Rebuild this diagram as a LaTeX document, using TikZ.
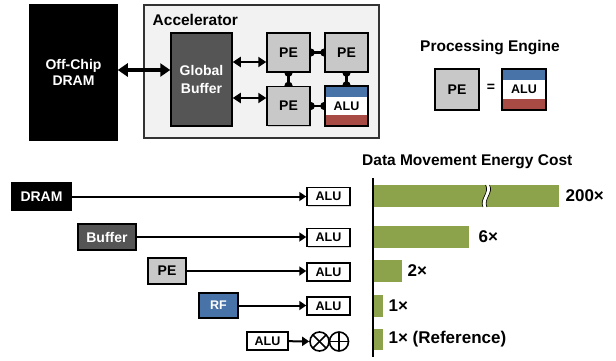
\documentclass[tikz,border=0pt]{standalone}
\usepackage{fontspec}
\setmainfont{Liberation Sans}
\usetikzlibrary{arrows.meta,positioning,shadows,backgrounds,calc}
\definecolor{BoxDark}{HTML}{555555}
\definecolor{PEGray}{HTML}{C8C8C8}
\definecolor{AluBlue}{HTML}{4773A8}
\definecolor{AluRed}{HTML}{A84B45}
\definecolor{BarGreen}{HTML}{8CA24B}
\definecolor{AccelBg}{HTML}{F2F2F2}
\tikzset{
    box/.style = {draw=black, line width=1.5pt, inner sep=0pt, align=center,
        font=\bfseries\fontsize{14}{16}\selectfont,
        drop shadow={opacity=0.3, shadow xshift=1.2pt, shadow yshift=-1.2pt}},
    darkbox/.style = {box, fill=black, text=white},
    greybox/.style = {box, fill=BoxDark, text=white},
    pe/.style = {box, fill=PEGray, minimum width=43pt, minimum height=39pt},
    alu/.style = {box, fill=white, font=\bfseries\fontsize{12.5}{14}\selectfont,
        minimum width=43pt, minimum height=18pt},
    stripedalu/.style = {alu, minimum height=40pt,
        path picture={
            \fill[AluBlue] (path picture bounding box.north west) rectangle ([yshift=-10.5pt]path picture bounding box.north east);
            \fill[AluRed] (path picture bounding box.south west) rectangle ([yshift=11.5pt]path picture bounding box.south east);}},
    opcircle/.style = {circle, draw=black, line width=1.6pt, minimum size=19pt, inner sep=0pt},
    header/.style = {font=\bfseries\fontsize{15.5}{18}\selectfont},
    barlab/.style = {font=\bfseries\fontsize{17}{20}\selectfont, inner sep=0pt},
    bar/.style = {fill=BarGreen, minimum height=22pt, inner sep=0pt, anchor=west},
    bigarrow/.style = {{Triangle[length=10pt,width=13pt]}-{Triangle[length=10pt,width=13pt]}, line width=3.5pt},
    smallarrow/.style = {{Triangle[length=8pt,width=10pt]}-{Triangle[length=8pt,width=10pt]}, line width=2.2pt},
    feed/.style = {-{Triangle[length=7pt,width=9pt]}, line width=2pt},
    link/.style = {{Circle[length=8pt]}-{Circle[length=8pt]}, line width=2.5pt, shorten <=-4pt, shorten >=-4pt}
}

\begin{document}
\begin{tikzpicture}[x=1pt, y=-1pt]
    \useasboundingbox (0,0) rectangle (616,360);
    % Off-chip memory and accelerator
    \node[darkbox, minimum width=87pt, minimum height=135pt] (offchip) at (73.5,72.5) {Off-Chip\\DRAM};
    \node[greybox, minimum width=61pt, minimum height=93pt, font=\bfseries\fontsize{14}{18}\selectfont] (gbuf) at (201.5,79.5) {Global\\Buffer};
    \node[pe] (pe1) at (288.5,52.5) {PE};
    \node[pe] (pe2) at (346.5,52.5) {PE};
    \node[pe] (pe3) at (288.5,106) {PE};
    \node[stripedalu] (alu) at (346.5,106) {ALU};
    \node[header, anchor=base west, inner sep=0pt] (accellabel) at (152.5,25.5) {Accelerator};
    \draw[bigarrow] (offchip.east |- 0,70) -- (gbuf.west |- 0,70);
    \draw[smallarrow] (gbuf.east |- 0,62) -- (pe1.west |- 0,62);
    \draw[smallarrow] (gbuf.east |- 0,98) -- (pe3.west |- 0,98);
    \begin{scope}[on background layer]
        \node[draw=black!80, fill=AccelBg, line width=1.3pt, minimum width=235pt, minimum height=133pt,
            drop shadow={opacity=0.25, shadow xshift=1.2pt, shadow yshift=-1.2pt}] (accel) at (261.5,71.5) {};
        \draw[link] (pe1) -- (pe2);
        \draw[link] (pe1) -- (pe3);
        \draw[link] (pe2) -- (alu);
        \draw[link] (pe3) -- (alu);
    \end{scope}
    % Legend
    \node[header] (legend) at (490,48) {Processing Engine};
    \node[pe, minimum width=44pt, minimum height=41pt] (pelegend) at (457,89.5) {PE};
    \node[font=\bfseries\fontsize{14}{16}\selectfont] (equals) at (491,88) {=};
    \node[stripedalu, minimum width=44pt, minimum height=41pt] (alulegend) at (524,89.5) {ALU};
    % Data movement rows
    \node[darkbox, minimum width=59pt, minimum height=27pt] (dramsrc) at (41.5,196.5) {DRAM};
    \node[greybox, minimum width=58pt, minimum height=26pt] (bufsrc) at (107,237) {Buffer};
    \node[box, fill=PEGray, minimum width=38pt, minimum height=26pt] (pesrc) at (167,271) {PE};
    \node[box, fill=AluBlue, text=white, font=\bfseries\fontsize{12.5}{14}\selectfont, minimum width=39pt, minimum height=25pt] (rfsrc) at (218.5,305.5) {RF};
    \node[alu, minimum width=41pt] (alusrc) at (267.5,341) {ALU};
    \node[alu] (alua) at (328.5,196.5) {ALU};
    \node[alu] (alub) at (328.5,237.5) {ALU};
    \node[alu] (aluc) at (328.5,272) {ALU};
    \node[alu] (alud) at (328.5,306) {ALU};
    \node[opcircle, path picture={
        \draw[line width=1.6pt] (path picture bounding box.north west) -- (path picture bounding box.south east);
        \draw[line width=1.6pt] (path picture bounding box.south west) -- (path picture bounding box.north east);}] (mult) at (319.5,341.5) {};
    \node[opcircle, path picture={
        \draw[line width=1.6pt] (path picture bounding box.north) -- (path picture bounding box.south);
        \draw[line width=1.6pt] (path picture bounding box.west) -- (path picture bounding box.east);}] (add) at (339,341.5) {};
    \draw[feed] (dramsrc) -- (alua);
    \draw[feed] (bufsrc.east) -- (alub.west |- bufsrc.east);
    \draw[feed] (pesrc.east) -- (aluc.west |- pesrc.east);
    \draw[feed] (rfsrc.east) -- (alud.west |- rfsrc.east);
    \draw[feed] (alusrc) -- (mult);
    % Energy cost chart
    \node[header, anchor=west, inner sep=0pt] (charttitle) at (362,162) {Data Movement Energy Cost};
    \coordinate (axtop) at (373,178);
    \coordinate (axbot) at (373,357);
    \node[bar, minimum width=185pt] (bara) at (374,196) {};
    \node[bar, minimum width=95pt] (barb) at (374,237) {};
    \node[bar, minimum width=28pt] (barc) at (374,271) {};
    \node[bar, minimum width=9pt] (bard) at (374,306) {};
    \node[bar, minimum width=9pt, minimum height=21pt] (bare) at (374,339.5) {};
    \draw[line width=2pt] (axtop) -- (axbot);
    % break in the longest bar
    \draw[white, line width=3.2pt] (487.5,183) .. controls (492,193) and (481,199) .. (485,209);
    \draw[black, line width=0.6pt] (485.5,185) .. controls (490,193) and (479,199) .. (483,207);
    \draw[black, line width=0.6pt] (489.5,185) .. controls (494,193) and (483,199) .. (487,207);
    \node[barlab, right=6pt of bara] (laba) {200×};
    \node[barlab, right=9pt of barb] (labb) {6×};
    \node[barlab, right=5pt of barc] (labc) {2×};
    \node[barlab, right=5pt of bard] (labd) {1×};
    \node[barlab, right=5pt of bare] (labe) {1× (Reference)};
\end{tikzpicture}
\end{document}
